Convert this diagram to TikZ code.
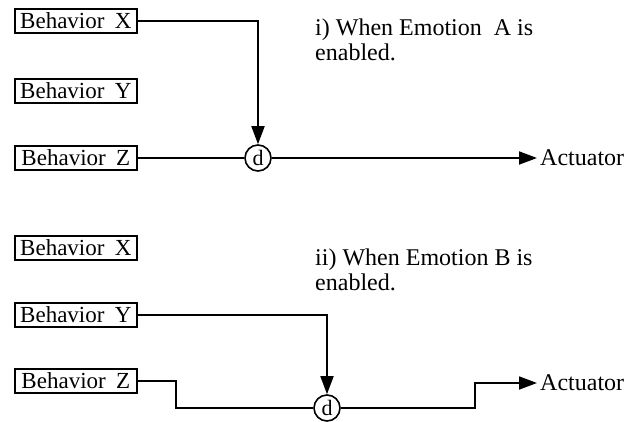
\documentclass[tikz,border=0pt]{standalone}
\usepackage{fontspec}
\setmainfont{Liberation Serif}
\usetikzlibrary{arrows.meta}

\tikzset{
  behbox/.style={draw, line width=1.7pt, anchor=west, minimum width=122pt,
    minimum height=24pt, inner xsep=3pt, inner ysep=0pt,
    font=\fontsize{23}{26}\selectfont},
  dnode/.style={draw, circle, line width=1.6pt, minimum size=26pt, inner sep=0pt,
    font=\fontsize{22}{24}\selectfont},
  wire/.style={line width=1.8pt},
  feed/.style={wire, -{Triangle[length=18pt,width=13pt]}},
  caption/.style={anchor=base west, align=left, inner sep=0pt,
    font=\fontsize{24}{25}\selectfont},
  outlabel/.style={anchor=west, inner sep=0pt, font=\fontsize{24}{26}\selectfont}
}

\begin{document}
\begin{tikzpicture}[x=1pt, y=-1pt]
  \useasboundingbox (0,0) rectangle (634,422);

  % ---- case i): Emotion A selects behavior X
  \node[behbox] (ax) at (14,21)  {Behavior\hspace{0.45em}X};
  \node[behbox] (ay) at (14,91)  {Behavior\hspace{0.45em}Y};
  \node[behbox] (az) at (14,158) {Behavior\hspace{0.45em}Z};
  \node[dnode]  (ad) at (258,158) {d};
  \node[outlabel] (aact) at (540,158) {Actuator};
  \coordinate (axturn) at (ad.north |- ax.east);
  \coordinate (atip) at (537,158);
  % anchor sits on the baseline of the last line
  \node[caption] (acap) at (315,61) {i) When Emotion\hspace{0.5em}A is\\enabled.};

  \draw[feed] (ax.east) -- (axturn) -- (ad.north);
  \draw[wire] (az.east) -- (ad.west);
  \draw[feed] (ad.east) -- (atip);

  % ---- case ii): Emotion B selects behavior Y
  \node[behbox] (bx) at (14,248) {Behavior\hspace{0.45em}X};
  \node[behbox] (by) at (14,315) {Behavior\hspace{0.45em}Y};
  \node[behbox] (bz) at (14,381) {Behavior\hspace{0.45em}Z};
  \node[dnode]  (bd) at (327,408) {d};
  \node[outlabel] (bact) at (540,383) {Actuator};
  \coordinate (byturn) at (bd.north |- by.east);
  \coordinate (bzturn) at (176,381);
  \coordinate (bzdown) at (176,408);
  \coordinate (bup1) at (475,408);
  \coordinate (bup2) at (475,383);
  \coordinate (btip) at (537,383);
  \node[caption] (bcap) at (315,290) {ii) When Emotion B is\\enabled.};

  \draw[feed] (by.east) -- (byturn) -- (bd.north);
  \draw[wire] (bz.east) -- (bzturn) -- (bzdown) -- (bd.west);
  \draw[feed] (bd.east) -- (bup1) -- (bup2) -- (btip);
\end{tikzpicture}
\end{document}
